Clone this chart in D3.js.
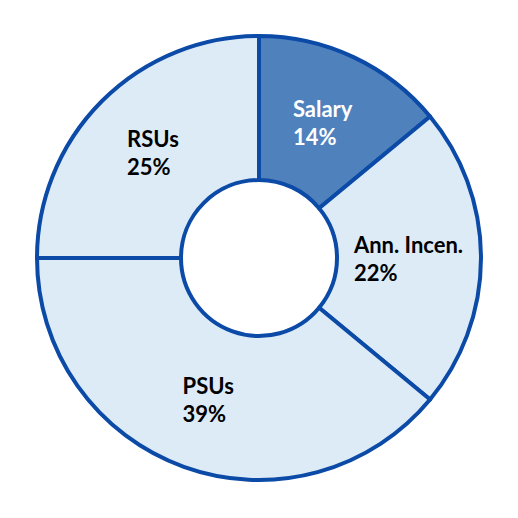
<!DOCTYPE html>
<html>
<head>
<meta charset="utf-8">
<script src="https://cdn.jsdelivr.net/npm/d3@7"></script>
<style>
  html, body { margin: 0; padding: 0; background: #fff; }
  text { font-family: Lato, "Open Sans", sans-serif; font-weight: bold; }
</style>
</head>
<body>
<main></main>
<script>
var categories = ['Salary', 'Ann. Incen.', 'PSUs', 'RSUs'];
var shares = [14, 22, 39, 25];
var fills = ['#4f81bd', '#ddebf7', '#ddebf7', '#ddebf7'];
var labelColors = ['#ffffff', '#000000', '#000000', '#000000'];

var width = 518, height = 518;
var cx = 259, cy = 258;
var outer = 222, inner = 78;
var stroke = '#0b4aa6';

var slices = categories.map(function (name, i) {
  return { name: name, value: shares[i], fill: fills[i], ink: labelColors[i] };
});

var svg = d3.select('main').append('svg')
  .attr('width', width)
  .attr('height', height);

var g = svg.append('g')
  .attr('transform', 'translate(' + cx + ',' + cy + ')');

var pie = d3.pie()
  .sort(null)
  .value(function (d) { return d.value; });

var arc = d3.arc()
  .innerRadius(inner)
  .outerRadius(outer);

var labelArc = d3.arc()
  .innerRadius(150)
  .outerRadius(150);

var arcs = pie(slices);

g.selectAll('path.slice')
  .data(arcs)
  .enter().append('path')
  .attr('class', 'slice')
  .attr('d', arc)
  .style('fill', function (d) { return d.data.fill; })
  .style('stroke', stroke)
  .style('stroke-width', 4)
  .style('stroke-linejoin', 'round');

// labels: two lines, left aligned, block centred on the slice centroid
var labels = g.selectAll('g.label')
  .data(arcs)
  .enter().append('g')
  .attr('class', 'label');

labels.each(function (d) {
  var el = d3.select(this);
  var c = labelArc.centroid(d);
  var lines = [d.data.name, d.data.value + '%'];
  var t = el.append('text')
    .style('font-size', '22px')
    .style('fill', d.data.ink);
  lines.forEach(function (s, i) {
    t.append('tspan')
      .attr('x', 0)
      .attr('y', i * 28)
      .text(s);
  });
  var w = t.node().getBBox().width;
  el.attr('transform', 'translate(' + (c[0] - w / 2) + ',' + (c[1] - 5) + ')');
});
</script>
</body>
</html>
